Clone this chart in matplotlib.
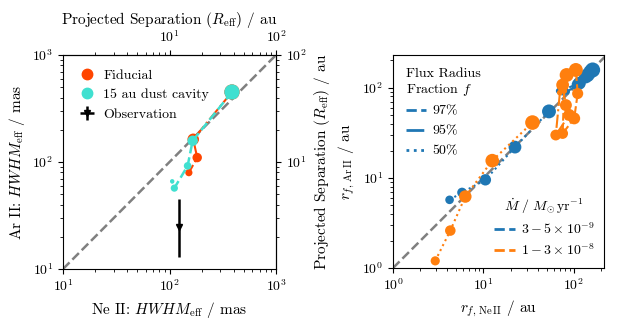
import numpy as np
import matplotlib
matplotlib.use('Agg')
import matplotlib.pyplot as plt
from matplotlib.lines import Line2D

plt.rcParams.update({
    'font.family': 'serif',
    'font.serif': ['cmr10'],
    'mathtext.fontset': 'cm',
    'axes.formatter.use_mathtext': True,
    'axes.unicode_minus': False,
    'font.size': 10,
})

# ---------------- Left panel data (mas) ----------------
fid_x = [386, 167, 182, 152]
fid_y = [451, 163, 110, 79.5]
fid_ms = [11.0, 8.3, 6.8, 5.2]
cav_x = [386, 165, 148, 111, 106]
cav_y = [451, 158, 92, 57, 66]
cav_ms = [11.0, 7.5, 5.5, 5.2, 3.2]
obs_x = [124]
obs_y = [24.7]
obs_yerr_lo = [11.8]
obs_yerr_hi = [20.3]
mas_per_au = 10.0  # 100 pc

# ---------------- Right panel data (au) ----------------
# low accretion rate (3-5e-9), blue
lo97_x = [68, 75, 115, 142, 161]
lo97_y = [92, 94, 112, 138, 157]
lo97_ms = [4.2, 7.8, 9.2, 10.0, 10.8]
lo95_x = [80, 84, 110, 135, 152]
lo95_y = [98, 90, 108, 132, 150]
lo95_ms = [3.8, 4.2, 8.6, 9.6, 10.0]
lo50_x = [4.22, 5.8, 10.5, 22.3, 53]
lo50_y = [5.7, 6.87, 9.5, 21.9, 54.5]
lo50_ms = [6.2, 7.0, 8.2, 9.2, 10.0]
# high accretion rate (1-3e-8), orange
hi97_x = [78, 75, 100.7, 110, 105]
hi97_y = [92, 31, 45.6, 86, 157]
hi97_ms = [4.2, 7.8, 8.6, 8.0, 10.0]
hi95_x = [70, 63, 88.7, 81.5, 75, 83]
hi95_y = [88, 29.8, 49.8, 64, 107, 138]
hi95_ms = [4.2, 7.8, 8.6, 8.6, 9.2, 10.0]
hi50_x = [2.93, 4.3, 6.3, 12.5, 34.8]
hi50_y = [1.2, 2.6, 6.2, 15.5, 41]
hi50_ms = [6.6, 7.6, 9.0, 9.8, 10.5]

frac_labels = [r'97$\%$', r'95$\%$', r'50$\%$']
frac_styles = ['--', '-.', ':']
mdot_labels = [r'$3-5\times10^{-9}$', r'$1-3\times10^{-8}$']

C_FID = 'orangered'
C_CAV = 'turquoise'
C_LO = 'tab:blue'
C_HI = 'tab:orange'

fig = plt.figure(figsize=(6.19, 3.29), dpi=100)
axL = fig.add_axes([63/619, 1-269/329, 213/619, 214/329])
axR = fig.add_axes([393/619, 1-268/329, 211/619, 213/329])

# ---- Left ----
axL.set_xscale('log'); axL.set_yscale('log')
axL.set_xlim(10, 1000); axL.set_ylim(10, 1000)
axL.plot([10, 1000], [10, 1000], ls='--', color='gray', lw=1.8, zorder=1)
axL.plot(fid_x, fid_y, ls='-.', color=C_FID, lw=1.5, zorder=2)
axL.scatter(fid_x, fid_y, s=np.array(fid_ms)**2, color=C_FID, zorder=3, linewidths=0)
axL.plot(cav_x, cav_y, ls='--', color=C_CAV, lw=1.8, zorder=4)
axL.scatter(cav_x, cav_y, s=np.array(cav_ms)**2, color=C_CAV, zorder=5, linewidths=0)
eb = axL.errorbar(obs_x, obs_y, yerr=[obs_yerr_lo, obs_yerr_hi], xerr=[[0.5], [0.5]],
                  fmt='v', color='k', ms=5, lw=1.8, zorder=6)
handles = [Line2D([], [], marker='o', ls='', color=C_FID, ms=7.5),
           Line2D([], [], marker='o', ls='', color=C_CAV, ms=7.5), eb]
axL.legend(handles, ['Fiducial', '15 au dust cavity', 'Observation'], loc='upper left',
           frameon=False, fontsize=10, handletextpad=0.4, borderaxespad=0.6,
           labelspacing=0.5, handlelength=1.5)
axL.set_xlabel(r'Ne II: $HWHM_{\mathrm{eff}}$ / mas', fontsize=11)
axL.set_ylabel(r'Ar II: $HWHM_{\mathrm{eff}}$ / mas', fontsize=11)

secx = axL.secondary_xaxis('top', functions=(lambda v: v / mas_per_au, lambda v: v * mas_per_au))
secx.set_xscale('log')
secx.set_xticks([10, 100])
secx.set_xlabel(r'Projected Separation ($R_{\mathrm{eff}}$) / au', fontsize=11)
secy = axL.secondary_yaxis('right', functions=(lambda v: v / mas_per_au, lambda v: v * mas_per_au))
secy.set_yscale('log')
secy.set_yticks([10, 100])
secy.set_ylabel(r'Projected Separation ($R_{\mathrm{eff}}$) / au', fontsize=11)

# ---- Right ----
axR.set_xscale('log'); axR.set_yscale('log')
axR.set_xlim(1, 215); axR.set_ylim(1, 230)
axR.plot([1, 300], [1, 300], ls='--', color='gray', lw=1.8, zorder=1)
series = [
    (lo97_x, lo97_y, lo97_ms, '--', C_LO),
    (lo95_x, lo95_y, lo95_ms, '-.', C_LO),
    (lo50_x, lo50_y, lo50_ms, ':', C_LO),
    (hi97_x, hi97_y, hi97_ms, '--', C_HI),
    (hi95_x, hi95_y, hi95_ms, '-.', C_HI),
    (hi50_x, hi50_y, hi50_ms, ':', C_HI),
]
z = 2
for xs, ys, ms, ls, c in series:
    axR.plot(xs, ys, ls=ls, color=c, lw=1.5, zorder=z)
    axR.scatter(xs, ys, s=np.array(ms)**2, color=c, zorder=z + 1, linewidths=0)
    z += 2

fh = [Line2D([], [], ls=s, color=C_LO, lw=2) for s in frac_styles]
leg1 = axR.legend(fh, frac_labels, loc='upper left', frameon=False,
                  title='Flux Radius\nFraction $f$', fontsize=10, title_fontsize=10,
                  handlelength=1.5, handletextpad=0.4, labelspacing=0.4,
                  alignment='left', borderaxespad=0.5)
axR.add_artist(leg1)
mh = [Line2D([], [], ls='--', color=C_LO, lw=2), Line2D([], [], ls='--', color=C_HI, lw=2)]
axR.legend(mh, mdot_labels, loc='lower right', frameon=False,
           title=r'$\dot{M}\ /\ M_{\odot}\,\mathrm{yr}^{-1}$', fontsize=10, title_fontsize=10,
           handlelength=1.5, handletextpad=0.4, labelspacing=0.4, borderaxespad=0.3)
axR.set_xlabel(r'$r_{f,\,\mathrm{Ne\,II}}$ / au', fontsize=11)
axR.set_ylabel(r'$r_{f,\,\mathrm{Ar\,II}}$ / au', fontsize=11)

fig.savefig('out.png', dpi=100)
